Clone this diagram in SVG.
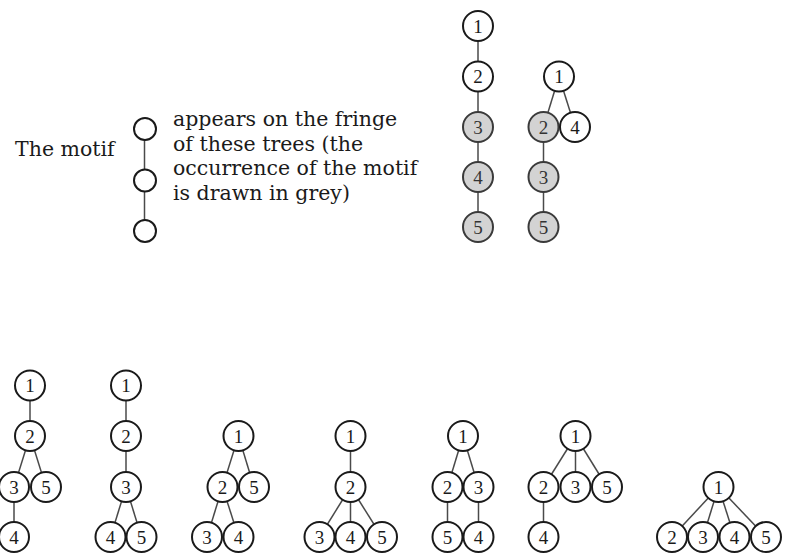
<svg xmlns="http://www.w3.org/2000/svg" width="785" height="560" viewBox="0 0 785 560">
<style>
.n circle{fill:#fff;stroke:#1a1a1a;stroke-width:2}
.g circle{fill:#d3d3d3;stroke:#3a3a3a;stroke-width:2}
.n text,.g text{font-family:"Liberation Serif","DejaVu Serif",serif;font-size:19px;text-anchor:middle;fill:#1a1a1a}
.g text{fill:#333}
.m circle{fill:#fff;stroke:#1a1a1a;stroke-width:2}
.e line{stroke:#4a4a4a;stroke-width:1.5}
.t{font-family:"DejaVu Serif","Liberation Serif",serif;font-size:20.5px;fill:#1a1a1a}
</style>
<rect width="785" height="560" fill="#fff"/>
<g id="caption">
<text class="t" x="15" y="156">The motif</text>
<text class="t" x="173" y="126">appears on the fringe</text>
<text class="t" x="173" y="150.5">of these trees (the</text>
<text class="t" x="173" y="175">occurrence of the motif</text>
<text class="t" x="173" y="199.5">is drawn in grey)</text>
</g>
<g id="connectors" class="e">
<line x1="144.5" y1="129" x2="144.5" y2="231"/>
<line x1="478" y1="26" x2="478" y2="227"/>
<line x1="559" y1="76.5" x2="543.5" y2="127"/>
<line x1="559" y1="76.5" x2="575" y2="127"/>
<line x1="543.5" y1="127" x2="543.5" y2="227"/>
<line x1="30" y1="385.5" x2="30" y2="436"/>
<line x1="30" y1="436" x2="14" y2="487"/>
<line x1="30" y1="436" x2="46" y2="487"/>
<line x1="14" y1="487" x2="14" y2="537"/>
<line x1="126" y1="385.5" x2="126" y2="487"/>
<line x1="126" y1="487" x2="110.5" y2="537"/>
<line x1="126" y1="487" x2="141.5" y2="537"/>
<line x1="238.5" y1="436" x2="222.5" y2="487"/>
<line x1="238.5" y1="436" x2="254" y2="487"/>
<line x1="222.5" y1="487" x2="207" y2="537"/>
<line x1="222.5" y1="487" x2="238.5" y2="537"/>
<line x1="350.5" y1="436" x2="350.5" y2="537"/>
<line x1="350.5" y1="487" x2="319.5" y2="537"/>
<line x1="350.5" y1="487" x2="382" y2="537"/>
<line x1="463" y1="436" x2="447.5" y2="487"/>
<line x1="463" y1="436" x2="478.5" y2="487"/>
<line x1="447.5" y1="487" x2="447.5" y2="537"/>
<line x1="478.5" y1="487" x2="478.5" y2="537"/>
<line x1="575.5" y1="436" x2="543.5" y2="487"/>
<line x1="575.5" y1="436" x2="575.5" y2="487"/>
<line x1="575.5" y1="436" x2="607" y2="487"/>
<line x1="543.5" y1="487" x2="543.5" y2="537"/>
<line x1="718.5" y1="487" x2="672" y2="537"/>
<line x1="718.5" y1="487" x2="703" y2="537"/>
<line x1="718.5" y1="487" x2="734.5" y2="537"/>
<line x1="718.5" y1="487" x2="766" y2="537"/>
</g>
<g id="motif" class="m">
<circle id="m1" cx="145" cy="129" r="11"/>
<circle id="m2" cx="145" cy="180.5" r="11"/>
<circle id="m3" cx="145" cy="231" r="11"/>
</g>
<g id="tree1">
<g id="t1n1" class="n"><circle cx="478" cy="26" r="15"/><text x="478" y="32.5">1</text></g>
<g id="t1n2" class="n"><circle cx="478" cy="76.5" r="15"/><text x="478" y="83">2</text></g>
<g id="t1n3" class="g"><circle cx="478" cy="127" r="15"/><text x="478" y="133.5">3</text></g>
<g id="t1n4" class="g"><circle cx="478" cy="177" r="15"/><text x="478" y="183.5">4</text></g>
<g id="t1n5" class="g"><circle cx="478" cy="227" r="15"/><text x="478" y="233.5">5</text></g>
</g>
<g id="tree2">
<g id="t2n1" class="n"><circle cx="559" cy="76.5" r="15"/><text x="559" y="83">1</text></g>
<g id="t2n2" class="g"><circle cx="543.5" cy="127" r="15"/><text x="543.5" y="133.5">2</text></g>
<g id="t2n4" class="n"><circle cx="575" cy="127" r="15"/><text x="575" y="133.5">4</text></g>
<g id="t2n3" class="g"><circle cx="543.5" cy="177" r="15"/><text x="543.5" y="183.5">3</text></g>
<g id="t2n5" class="g"><circle cx="543.5" cy="227" r="15"/><text x="543.5" y="233.5">5</text></g>
</g>
<g id="treeA">
<g id="an1" class="n"><circle cx="30" cy="385.5" r="15"/><text x="30" y="392">1</text></g>
<g id="an2" class="n"><circle cx="30" cy="436" r="15"/><text x="30" y="442.5">2</text></g>
<g id="an3" class="n"><circle cx="14" cy="487" r="15"/><text x="14" y="493.5">3</text></g>
<g id="an5" class="n"><circle cx="46" cy="487" r="15"/><text x="46" y="493.5">5</text></g>
<g id="an4" class="n"><circle cx="14" cy="537" r="15"/><text x="14" y="543.5">4</text></g>
</g>
<g id="treeB">
<g id="bn1" class="n"><circle cx="126" cy="385.5" r="15"/><text x="126" y="392">1</text></g>
<g id="bn2" class="n"><circle cx="126" cy="436" r="15"/><text x="126" y="442.5">2</text></g>
<g id="bn3" class="n"><circle cx="126" cy="487" r="15"/><text x="126" y="493.5">3</text></g>
<g id="bn4" class="n"><circle cx="110.5" cy="537" r="15"/><text x="110.5" y="543.5">4</text></g>
<g id="bn5" class="n"><circle cx="141.5" cy="537" r="15"/><text x="141.5" y="543.5">5</text></g>
</g>
<g id="treeC">
<g id="cn1" class="n"><circle cx="238.5" cy="436" r="15"/><text x="238.5" y="442.5">1</text></g>
<g id="cn2" class="n"><circle cx="222.5" cy="487" r="15"/><text x="222.5" y="493.5">2</text></g>
<g id="cn5" class="n"><circle cx="254" cy="487" r="15"/><text x="254" y="493.5">5</text></g>
<g id="cn3" class="n"><circle cx="207" cy="537" r="15"/><text x="207" y="543.5">3</text></g>
<g id="cn4" class="n"><circle cx="238.5" cy="537" r="15"/><text x="238.5" y="543.5">4</text></g>
</g>
<g id="treeD">
<g id="dn1" class="n"><circle cx="350.5" cy="436" r="15"/><text x="350.5" y="442.5">1</text></g>
<g id="dn2" class="n"><circle cx="350.5" cy="487" r="15"/><text x="350.5" y="493.5">2</text></g>
<g id="dn3" class="n"><circle cx="319.5" cy="537" r="15"/><text x="319.5" y="543.5">3</text></g>
<g id="dn4" class="n"><circle cx="350.5" cy="537" r="15"/><text x="350.5" y="543.5">4</text></g>
<g id="dn5" class="n"><circle cx="382" cy="537" r="15"/><text x="382" y="543.5">5</text></g>
</g>
<g id="treeE">
<g id="en1" class="n"><circle cx="463" cy="436" r="15"/><text x="463" y="442.5">1</text></g>
<g id="en2" class="n"><circle cx="447.5" cy="487" r="15"/><text x="447.5" y="493.5">2</text></g>
<g id="en3" class="n"><circle cx="478.5" cy="487" r="15"/><text x="478.5" y="493.5">3</text></g>
<g id="en5" class="n"><circle cx="447.5" cy="537" r="15"/><text x="447.5" y="543.5">5</text></g>
<g id="en4" class="n"><circle cx="478.5" cy="537" r="15"/><text x="478.5" y="543.5">4</text></g>
</g>
<g id="treeF">
<g id="fn1" class="n"><circle cx="575.5" cy="436" r="15"/><text x="575.5" y="442.5">1</text></g>
<g id="fn2" class="n"><circle cx="543.5" cy="487" r="15"/><text x="543.5" y="493.5">2</text></g>
<g id="fn3" class="n"><circle cx="575.5" cy="487" r="15"/><text x="575.5" y="493.5">3</text></g>
<g id="fn5" class="n"><circle cx="607" cy="487" r="15"/><text x="607" y="493.5">5</text></g>
<g id="fn4" class="n"><circle cx="543.5" cy="537" r="15"/><text x="543.5" y="543.5">4</text></g>
</g>
<g id="treeG">
<g id="gn1" class="n"><circle cx="718.5" cy="487" r="15"/><text x="718.5" y="493.5">1</text></g>
<g id="gn2" class="n"><circle cx="672" cy="537" r="15"/><text x="672" y="543.5">2</text></g>
<g id="gn3" class="n"><circle cx="703" cy="537" r="15"/><text x="703" y="543.5">3</text></g>
<g id="gn4" class="n"><circle cx="734.5" cy="537" r="15"/><text x="734.5" y="543.5">4</text></g>
<g id="gn5" class="n"><circle cx="766" cy="537" r="15"/><text x="766" y="543.5">5</text></g>
</g>
</svg>
